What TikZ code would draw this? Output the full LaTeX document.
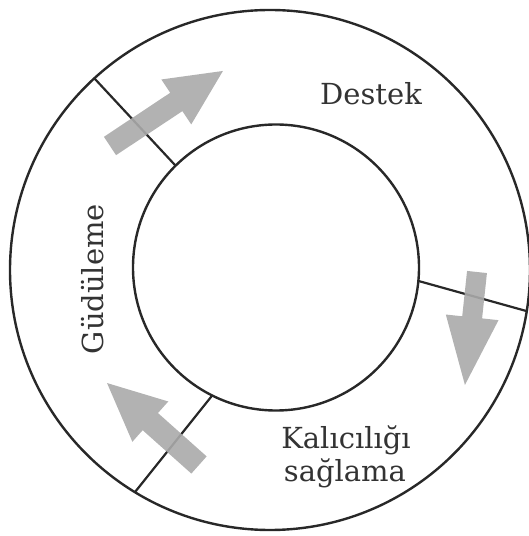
\documentclass[tikz,border=0pt]{standalone}
\usepackage{fontspec}
\setmainfont{DejaVu Serif}
\usetikzlibrary{calc}
\definecolor{arrowgray}{RGB}{170,170,170}
\definecolor{linecol}{RGB}{40,40,40}
\tikzset{
  pics/blockarr/.style n args={4}{code={%
    \fill[arrowgray,opacity=0.9] (0,-#2/2) -- (#1-#4,-#2/2) -- (#1-#4,-#3/2) -- (#1,0)
      -- (#1-#4,#3/2) -- (#1-#4,#2/2) -- (0,#2/2) -- cycle;}}
}
\begin{document}
\begin{tikzpicture}[x=1pt,y=1pt,
  ring/.style={draw=linecol, line width=2.4pt},
  sep/.style={draw=linecol, line width=2.2pt},
  lbl/.style={text=black!80, font=\fontsize{29}{33}\selectfont, inner sep=0pt}]
\useasboundingbox (0,0) rectangle (529,536);
\coordinate (oc) at (270,266);
\coordinate (ic) at (276,268.5);
\draw[ring] (oc) circle[radius=260pt];
\draw[ring] (ic) circle[radius=143pt];
% separators
\coordinate (o1) at ($(oc)+(132.5:260)$);
\coordinate (i1) at ($(ic)+(134.6:143)$);
\coordinate (i2) at ($(ic)+(-5.4:143)$);
\coordinate (o2) at ($(oc)+(-9.1:260)$);
\coordinate (i3) at ($(ic)+(243.5:143)$);
\coordinate (o3) at ($(oc)+(238.7:260)$);
\draw[sep] (o1) -- (i1);
\draw[sep] (i2) -- (o2);
\draw[sep] (i3) -- (o3);
% arrows
\pic[rotate=33.6] at (110,390) {blockarr={135.6}{22}{54}{56}};
\pic[rotate=-96.1] at (477,264) {blockarr={113.6}{20}{53}{68}};
\pic[rotate=138.3] at (199,71) {blockarr={123.2}{23}{54}{58}};
% labels
\node[lbl, anchor=base] (destek) at (371,431) {Destek};
\node[lbl, anchor=base, rotate=90] (gud) at (103,257) {Güdüleme};
\node[lbl, anchor=base] (kal) at (346,87) {Kalıcılığı};
\node[lbl, anchor=base] (sag) at (345,54) {sağlama};
\end{tikzpicture}
\end{document}
